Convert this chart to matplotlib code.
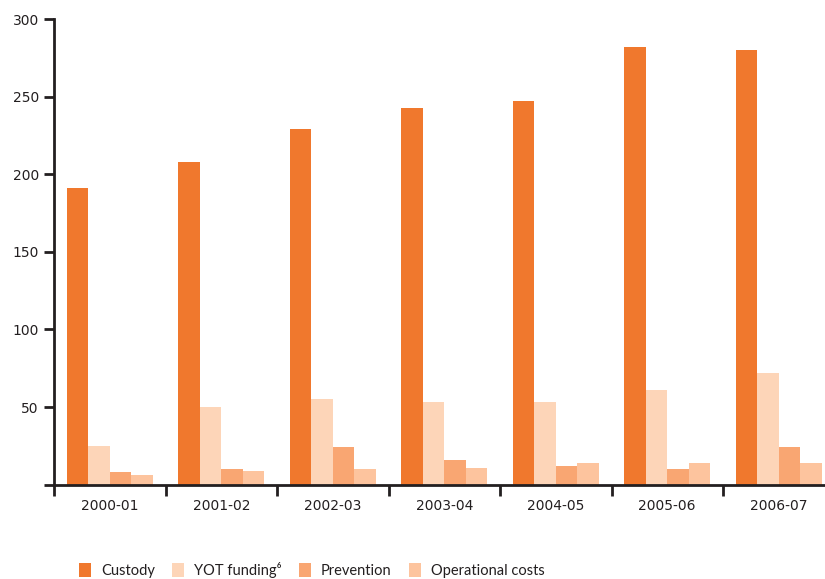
import matplotlib.pyplot as plt
import numpy as np

years = ["2000-01", "2001-02", "2002-03", "2003-04", "2004-05", "2005-06", "2006-07"]
custody = [191, 208, 229, 243, 247, 282, 280]
yot = [25, 50, 55, 53, 53, 61, 72]
prevention = [8, 10, 24, 16, 12, 10, 24]
operational = [6, 8.5, 10, 11, 14, 14, 14]

series = [("Custody", custody, "#F0782D"),
          ("YOT funding\u2076", yot, "#FDD5B8"),
          ("Prevention", prevention, "#F9A672"),
          ("Operational costs", operational, "#FDC49E")]

fig = plt.figure(figsize=(8.25, 5.79), dpi=100)
ax = fig.add_axes([0.0655, 0.163, 0.946, 0.804])

x = np.arange(len(years))
w = 0.193
for i, (name, vals, col) in enumerate(series):
    ax.bar(x + (i - 1.5) * w, vals, w, color=col, label=name)

ax.set_xlim(-0.5, len(years) - 0.5)
ax.set_ylim(0, 300)
ax.set_yticks(range(0, 301, 50))
ax.set_yticklabels([""] + [str(v) for v in range(50, 301, 50)])
ax.set_xticks(x)
ax.set_xticklabels(years)
ax.set_xticks(np.arange(len(years)) - 0.5, minor=True)
ax.tick_params(axis="x", which="major", length=0, pad=10)
ax.tick_params(axis="x", which="minor", length=8, width=2, color="#231F20")
ax.tick_params(axis="y", length=7, width=2, color="#231F20", pad=4)
for lab in ax.get_xticklabels() + ax.get_yticklabels():
    lab.set_fontsize(10)
    lab.set_color("#231F20")

for s in ["top", "right"]:
    ax.spines[s].set_visible(False)
for s in ["left", "bottom"]:
    ax.spines[s].set_linewidth(2)
    ax.spines[s].set_color("#231F20")

leg = fig.legend(loc="center left", bbox_to_anchor=(0.08, 0.016), ncol=4, frameon=False,
                 handlelength=0.8, handleheight=1.1, handletextpad=0.7, columnspacing=1.2,
                 prop={"family": ["Lato", "DejaVu Sans"], "size": 10.5})
for t in leg.get_texts():
    t.set_color("#231F20")

fig.savefig("out.png", dpi=100)
